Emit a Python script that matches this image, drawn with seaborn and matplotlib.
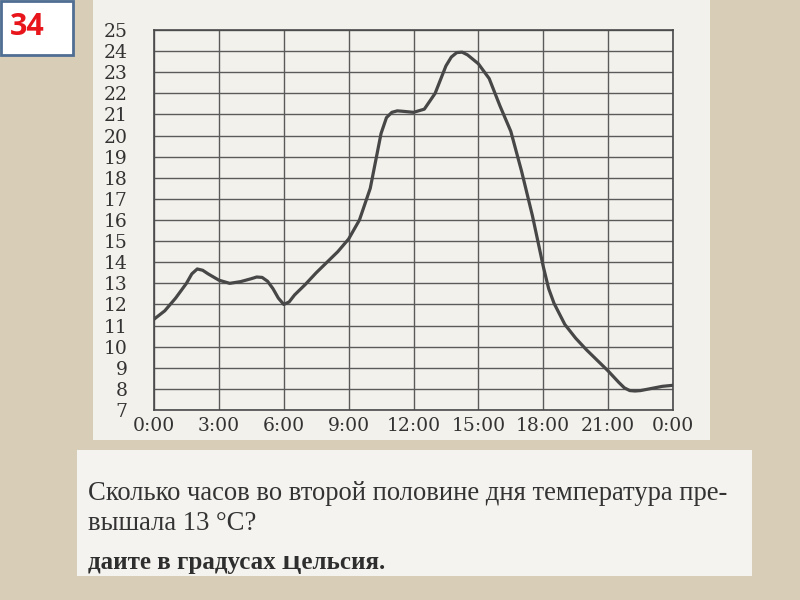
import numpy as np
import pandas as pd
import matplotlib
matplotlib.use("Agg")
import matplotlib.pyplot as plt
from matplotlib.patches import Rectangle
import seaborn as sns

# Температура в течение суток
hours = [0.0, 0.5, 1.0, 1.5, 1.75, 2.0, 2.25, 2.5, 3.0, 3.5, 4.0, 4.5, 4.75, 5.0,
         5.25, 5.5, 5.75, 6.0, 6.25, 6.5, 7.0, 7.5, 8.0, 8.5, 9.0, 9.5, 10.0,
         10.25, 10.5, 10.75, 11.0, 11.25, 11.5, 12.0, 12.5, 13.0, 13.5, 13.75,
         14.0, 14.25, 14.5, 15.0, 15.5, 16.0, 16.5, 17.0, 17.5, 18.0, 18.25,
         18.5, 19.0, 19.5, 20.0, 20.5, 21.0, 21.5, 21.75, 22.0, 22.25, 22.5,
         23.0, 23.5, 24.0]
temps = [11.3, 11.7, 12.3, 13.0, 13.45, 13.68, 13.62, 13.45, 13.15, 13.0, 13.08,
         13.22, 13.3, 13.28, 13.1, 12.75, 12.3, 12.0, 12.12, 12.45, 12.95, 13.5,
         14.0, 14.5, 15.1, 16.0, 17.5, 18.8, 20.1, 20.85, 21.1, 21.17, 21.15,
         21.1, 21.25, 22.0, 23.3, 23.72, 23.93, 23.95, 23.82, 23.4, 22.7, 21.4,
         20.2, 18.3, 16.2, 13.8, 12.75, 12.05, 11.05, 10.4, 9.85, 9.35, 8.85,
         8.3, 8.05, 7.92, 7.9, 7.92, 8.02, 8.12, 8.17]

x_ticks = [0, 3, 6, 9, 12, 15, 18, 21, 24]
x_labels = ['0:00', '3:00', '6:00', '9:00', '12:00', '15:00', '18:00', '21:00', '0:00']
y_ticks = list(range(7, 26))

question_1 = 'Сколько часов во второй половине дня температура пре-'
question_2 = 'вышала 13 °C?'
question_3 = 'дайте в градусах Цельсия.'
slide_no = '34'

df = pd.DataFrame({'час': hours, 'температура': temps})

sns.set_theme(style='white')
plt.rcParams['font.family'] = ['DejaVu Serif', 'DejaVu Sans']

ink = '#333333'
paper = '#f3f1ec'
caption_bg = '#f4f3ef'

fig = plt.figure(figsize=(8, 6), dpi=100)
fig.patch.set_facecolor('#d8ceb7')

# листы бумаги
fig.patches.append(Rectangle((93 / 800, 1 - 440 / 600), (710 - 93) / 800, 440 / 600,
                             transform=fig.transFigure, facecolor=paper, edgecolor='none', zorder=-2))
fig.patches.append(Rectangle((77 / 800, 1 - 576 / 600), (752 - 77) / 800, (576 - 450) / 600,
                             transform=fig.transFigure, facecolor=caption_bg, edgecolor='none', zorder=-2))
# номер слайда
fig.patches.append(Rectangle((1 / 800, 1 - 55 / 600), 72 / 800, 54 / 600,
                             transform=fig.transFigure, facecolor='white', edgecolor='#4f6e94',
                             linewidth=2, zorder=5))
fig.text(27 / 800, 1 - 27 / 600, slide_no, color='#e8151b', fontsize=22, fontweight='bold',
         family=['Open Sans', 'DejaVu Sans'], ha='center', va='center', zorder=6)

ax = fig.add_axes([154 / 800, 190 / 600, 519 / 800, 380 / 600])
ax.set_facecolor(paper)

sns.lineplot(data=df, x='час', y='температура', ax=ax, color='#474747', linewidth=2.3,
             zorder=3, solid_joinstyle='round', solid_capstyle='round')

ax.set_xlim(0, 24)
ax.set_ylim(7, 25)
ax.set_xticks(x_ticks)
ax.set_xticklabels(x_labels)
ax.set_yticks(y_ticks)
ax.set_xlabel('')
ax.set_ylabel('')
ax.grid(True, color='#5a5a5a', linewidth=1.0)
for s in ax.spines.values():
    s.set_color('#4a4a4a')
    s.set_linewidth(1.2)
ax.tick_params(axis='both', length=0, labelsize=13.5, labelcolor=ink)
ax.tick_params(axis='y', pad=19)
ax.tick_params(axis='x', pad=5)

fig.text(88 / 800, 1 - 493 / 600, question_1, color=ink, fontsize=19.2,
         family='Liberation Serif', ha='left', va='center', zorder=3)
fig.text(88 / 800, 1 - 523 / 600, question_2, color=ink, fontsize=19.2,
         family='Liberation Serif', ha='left', va='center', zorder=3)
fig.text(88 / 800, 1 - 562 / 600, question_3, color='#2e2e2e', fontsize=18,
         family='Liberation Serif', fontweight='bold', ha='left', va='center', zorder=3)
# верх третьей строки закрыт листом
fig.patches.append(Rectangle((77 / 800, 1 - 556 / 600), (752 - 77) / 800, 16 / 600,
                             transform=fig.transFigure, facecolor=caption_bg, edgecolor='none', zorder=4))

fig.savefig('out.png', dpi=100, facecolor=fig.get_facecolor())
